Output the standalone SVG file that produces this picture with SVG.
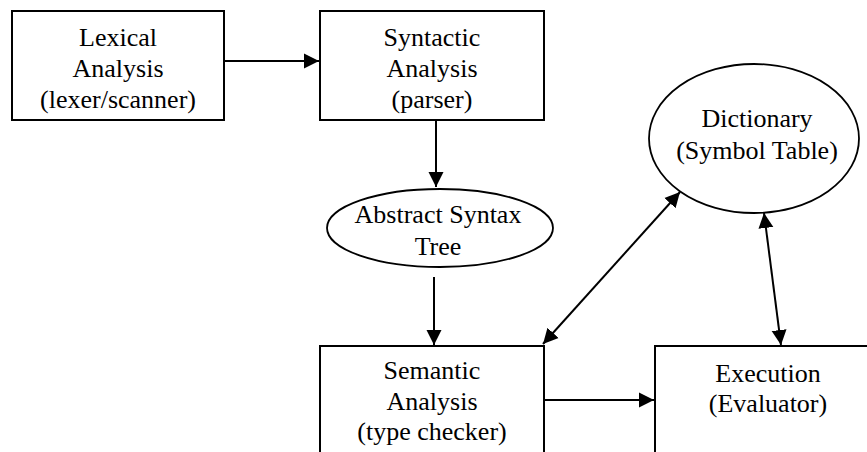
<svg xmlns="http://www.w3.org/2000/svg" width="867" height="452" viewBox="0 0 867 452">
  <style>
    .box { fill: #fff; stroke: #000; stroke-width: 2; }
    .oval { fill: #fff; stroke: #000; stroke-width: 1.8; }
    .lbl { font-family: "Liberation Serif", "Times New Roman", serif; font-size: 26px; fill: #000; text-anchor: middle; }
    .edge { stroke: #000; stroke-width: 2; fill: none; }
  </style>
  <defs>
    <marker id="head" markerUnits="userSpaceOnUse" markerWidth="17" markerHeight="17" refX="15" refY="8" orient="auto-start-reverse">
      <path d="M0,0.5 L15,8 L0,15.5 Z" fill="#000"/>
    </marker>
  </defs>
  <rect width="867" height="452" fill="#fff"/>

  <g id="lexer">
    <rect class="box" x="12" y="11" width="212" height="109"/>
    <text class="lbl" x="118" y="46">Lexical</text>
    <text class="lbl" x="118" y="77">Analysis</text>
    <text class="lbl" x="118" y="108">(lexer/scanner)</text>
  </g>

  <g id="parser">
    <rect class="box" x="320" y="11" width="224" height="109"/>
    <text class="lbl" x="432" y="46">Syntactic</text>
    <text class="lbl" x="432" y="77">Analysis</text>
    <text class="lbl" x="432" y="108">(parser)</text>
  </g>

  <g id="ast">
    <ellipse class="oval" cx="440" cy="228" rx="113" ry="39"/>
    <text class="lbl" x="438" y="223">Abstract Syntax</text>
    <text class="lbl" x="438" y="255">Tree</text>
  </g>

  <g id="dictionary">
    <ellipse class="oval" cx="754" cy="138.5" rx="105" ry="74.5"/>
    <text class="lbl" x="757" y="127">Dictionary</text>
    <text class="lbl" x="757" y="159">(Symbol Table)</text>
  </g>

  <g id="semantic">
    <rect class="box" x="320" y="346" width="224" height="130"/>
    <text class="lbl" x="432" y="379">Semantic</text>
    <text class="lbl" x="432" y="410">Analysis</text>
    <text class="lbl" x="432" y="440">(type checker)</text>
  </g>

  <g id="execution">
    <rect class="box" x="655" y="346" width="226" height="130"/>
    <text class="lbl" x="768" y="382">Execution</text>
    <text class="lbl" x="768" y="412">(Evaluator)</text>
  </g>

  <g id="connectors">
    <line class="edge" x1="224" y1="61" x2="319" y2="61" marker-end="url(#head)"/>
    <line class="edge" x1="436" y1="121" x2="436" y2="187" marker-end="url(#head)"/>
    <line class="edge" x1="434" y1="277" x2="434" y2="345" marker-end="url(#head)"/>
    <line class="edge" x1="544" y1="400" x2="654" y2="400" marker-end="url(#head)"/>
    <line class="edge" x1="543" y1="344" x2="680" y2="192" marker-start="url(#head)" marker-end="url(#head)"/>
    <line class="edge" x1="764" y1="213" x2="781" y2="345" marker-start="url(#head)" marker-end="url(#head)"/>
  </g>
</svg>
